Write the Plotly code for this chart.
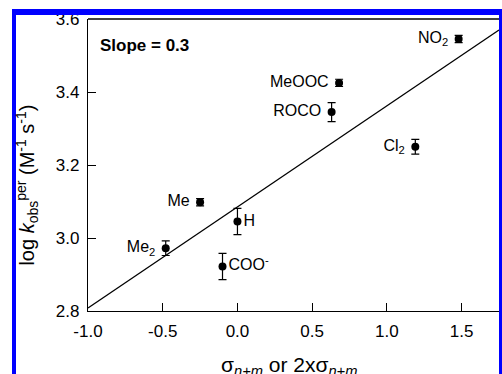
import plotly.graph_objects as go

labels = ["NO<sub>2</sub>", "MeOOC", "ROCO", "Cl<sub>2</sub>", "Me", "H", "Me<sub>2</sub>", "COO<sup>-</sup>"]
sigma = [1.48, 0.68, 0.63, 1.19, -0.25, 0.0, -0.48, -0.1]
logk = [3.545, 3.425, 3.345, 3.25, 3.098, 3.045, 2.972, 2.922]
err = [0.010, 0.010, 0.026, 0.020, 0.010, 0.036, 0.020, 0.036]
label_pos = ["middle left", "middle left", "middle left", "middle left",
             "middle left", "middle right", "middle left", "middle right"]

fit_x = [-1.0, 1.75]
fit_y = [2.808, 3.570]

x_ticks = [-1.0, -0.5, 0.0, 0.5, 1.0, 1.5]
y_ticks = [2.8, 3.0, 3.2, 3.4, 3.6]

x_title = "σ<sub><i>n+m</i></sub> or 2xσ<sub><i>n+m</i></sub>"
y_title = "log <i>k</i><sub>obs</sub><sup>per</sup> (M<sup>-1</sup> s<sup>-1</sup>)"

FONT = "Arial, Liberation Sans, sans-serif"
NB = "\u00a0"
shown = [(lab + NB) if pos.endswith("left") else lab
         for lab, pos in zip(labels, label_pos)]

fig = go.Figure()
fig.add_trace(go.Scatter(
    x=fit_x, y=fit_y, mode="lines",
    line=dict(color="black", width=1.3), hoverinfo="skip", showlegend=False,
))
fig.add_trace(go.Scatter(
    x=sigma, y=logk, mode="markers+text",
    marker=dict(color="black", size=8),
    error_y=dict(type="data", array=err, color="black", thickness=1.2, width=4),
    text=shown, textposition=label_pos,
    textfont=dict(family=FONT, size=16, color="black"),
    cliponaxis=False, showlegend=False,
))

fig.add_annotation(
    xref="paper", yref="paper", x=0.025, y=0.91, xanchor="left", yanchor="middle",
    text="<b>Slope = 0.3</b>", showarrow=False,
    font=dict(family=FONT, size=17, color="black"),
)
# axis titles
fig.add_annotation(
    xref="paper", yref="paper", x=0.49, y=-0.19, xanchor="center", yanchor="middle",
    text=x_title, showarrow=False, font=dict(family=FONT, size=21, color="black"),
)
fig.add_annotation(
    xref="paper", yref="paper", x=-0.148, y=0.43, xanchor="center", yanchor="middle",
    text=y_title, textangle=-90, showarrow=False,
    font=dict(family=FONT, size=20, color="black"),
)

# blue frame around the (cropped) figure
blue = "#0000ff"
for (x0, x1, y0, y1) in [(12, 16, 9, 374), (12, 502, 9, 15), (499, 502, 9, 374)]:
    fig.add_shape(
        type="rect", xref="paper", yref="paper",
        x0=(x0 - 88) / 411, x1=(x1 - 88) / 411,
        y0=(311 - y1) / 292, y1=(311 - y0) / 292,
        fillcolor=blue, line=dict(width=0), layer="above",
    )

fig.update_layout(
    width=502, height=374,
    margin=dict(l=88, r=3, t=19, b=63, autoexpand=False),
    paper_bgcolor="white", plot_bgcolor="white",
    font=dict(family=FONT, size=17, color="black"),
    xaxis=dict(
        range=[-1.0, 1.75], tickvals=x_ticks, ticktext=["%.1f" % v for v in x_ticks],
        ticks="inside", ticklen=8, tickwidth=1, tickcolor="black", ticklabelstandoff=4,
        showline=True, linecolor="black", linewidth=1.3, mirror=False,
        showgrid=False, zeroline=False, automargin=False,
    ),
    yaxis=dict(
        range=[2.8, 3.6], tickvals=y_ticks, ticktext=["%.1f" % v for v in y_ticks],
        ticks="inside", ticklen=8, tickwidth=1, tickcolor="black", ticklabelstandoff=4,
        showline=True, linecolor="black", linewidth=1.3,
        showgrid=False, zeroline=False, automargin=False,
    ),
)
# top frame line
fig.add_shape(type="line", xref="paper", yref="paper", x0=0, x1=1, y0=1, y1=1,
              line=dict(color="black", width=1.3))

fig.write_html("out.html")
